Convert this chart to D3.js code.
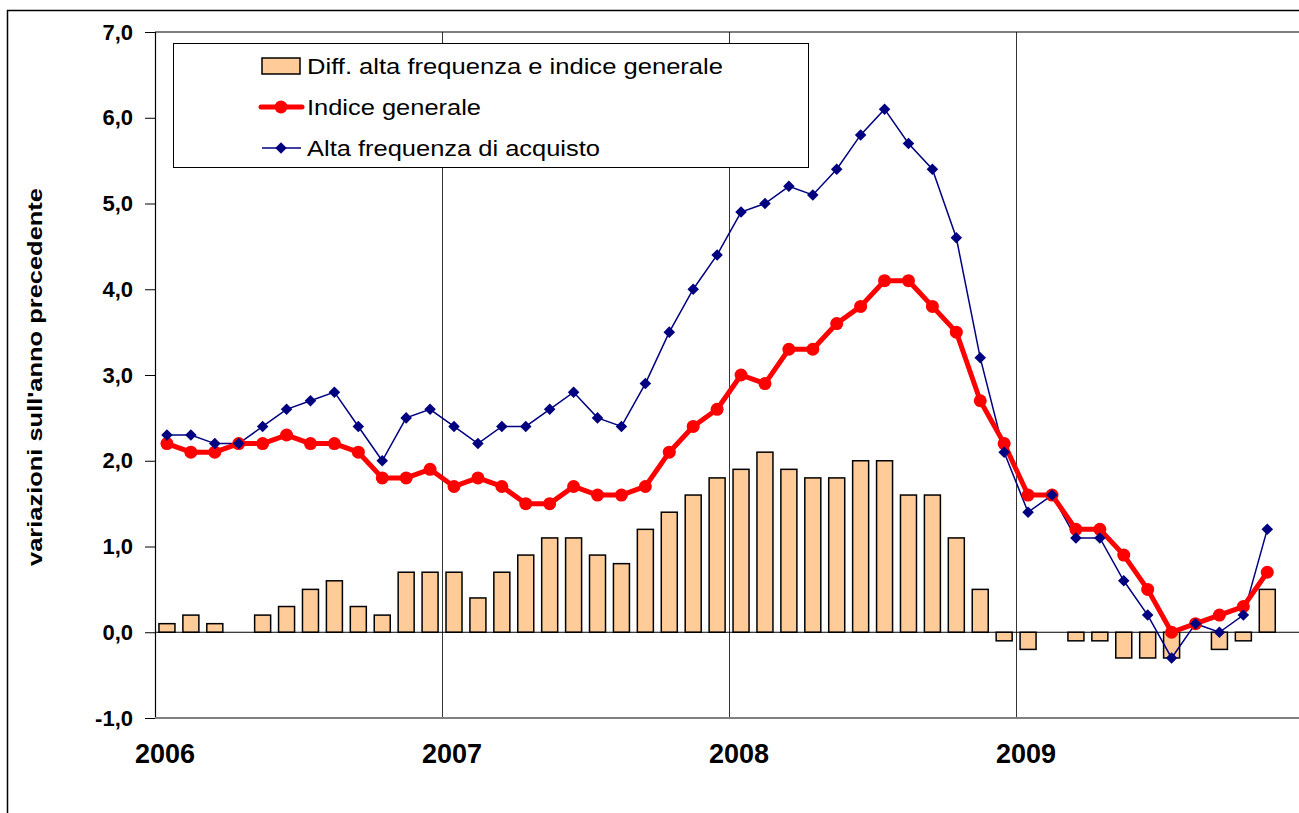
<!DOCTYPE html>
<html>
<head>
<meta charset="utf-8">
<script src="https://cdn.jsdelivr.net/npm/d3@7"></script>
<style>
  body { margin: 0; background: #fff; }
  svg { display: block; font-family: "Liberation Sans", Arial, sans-serif; }
</style>
</head>
<body>
<div id="chart"></div>
<script>
// months Jan 2006 .. Dec 2009 (Dec 2009 empty)
var years = [2006, 2007, 2008, 2009];
var months = [];
years.forEach(function(y){ for (var m = 1; m <= 12; m++) months.push(y + "-" + m); });

var altaFreq = [2.3, 2.3, 2.2, 2.2, 2.4, 2.6, 2.7, 2.8, 2.4, 2.0, 2.5, 2.6,
                2.4, 2.2, 2.4, 2.4, 2.6, 2.8, 2.5, 2.4, 2.9, 3.5, 4.0, 4.4,
                4.9, 5.0, 5.2, 5.1, 5.4, 5.8, 6.1, 5.7, 5.4, 4.6, 3.2, 2.1,
                1.4, 1.6, 1.1, 1.1, 0.6, 0.2, -0.3, 0.1, 0.0, 0.2, 1.2];
var indiceGen = [2.2, 2.1, 2.1, 2.2, 2.2, 2.3, 2.2, 2.2, 2.1, 1.8, 1.8, 1.9,
                 1.7, 1.8, 1.7, 1.5, 1.5, 1.7, 1.6, 1.6, 1.7, 2.1, 2.4, 2.6,
                 3.0, 2.9, 3.3, 3.3, 3.6, 3.8, 4.1, 4.1, 3.8, 3.5, 2.7, 2.2,
                 1.6, 1.6, 1.2, 1.2, 0.9, 0.5, 0.0, 0.1, 0.2, 0.3, 0.7];
var diffVals = [0.1, 0.2, 0.1, 0.0, 0.2, 0.3, 0.5, 0.6, 0.3, 0.2, 0.7, 0.7,
                0.7, 0.4, 0.7, 0.9, 1.1, 1.1, 0.9, 0.8, 1.2, 1.4, 1.6, 1.8,
                1.9, 2.1, 1.9, 1.8, 1.8, 2.0, 2.0, 1.6, 1.6, 1.1, 0.5, -0.1,
                -0.2, 0.0, -0.1, -0.1, -0.3, -0.3, -0.3, 0.0, -0.2, -0.1, 0.5];
var yTicks = [-1, 0, 1, 2, 3, 4, 5, 6, 7];

var W = 1299, H = 813;
var plotLeft = 155, plotTop = 32, plotBottom = 718;
var plotW = 48 * 23.92;

var svg = d3.select("#chart").append("svg")
  .attr("width", W).attr("height", H);

// outer chart frame
svg.append("rect")
  .attr("x", 7.5).attr("y", 10.5)
  .attr("width", W + 20).attr("height", H + 20)
  .attr("fill", "none").attr("stroke", "#000").attr("stroke-width", 1.5);

var x = d3.scaleBand().domain(months).range([plotLeft, plotLeft + plotW]);
var y = d3.scaleLinear().domain([-1, 7]).range([plotBottom, plotTop]);

var g = svg.append("g");

// plot area top border
g.append("line")
  .attr("x1", plotLeft).attr("x2", plotLeft + plotW)
  .attr("y1", plotTop).attr("y2", plotTop)
  .attr("stroke", "#808080").attr("stroke-width", 2);

// year gridlines
years.slice(1).forEach(function(yr){
  var xx = Math.round(x(yr + "-1")) + 0.5;
  g.append("line")
    .attr("x1", xx).attr("x2", xx)
    .attr("y1", plotTop).attr("y2", plotBottom)
    .attr("stroke", "#000").attr("stroke-width", 0.8);
});

// bars (zero values have no bar)
var bw = 16;
diffVals.forEach(function(d, i){
  if (d === 0) return;
  g.append("rect")
    .attr("class", "bar")
    .attr("x", x(months[i]) + (x.bandwidth() - bw) / 2)
    .attr("y", y(Math.max(0, d)))
    .attr("width", bw)
    .attr("height", Math.abs(y(d) - y(0)))
    .attr("fill", "#FFCC99")
    .attr("stroke", "#000")
    .attr("stroke-width", 1.5);
});

// zero line
g.append("line")
  .attr("x1", plotLeft).attr("x2", plotLeft + plotW)
  .attr("y1", y(0)).attr("y2", y(0))
  .attr("stroke", "#000").attr("stroke-width", 1);

// y axis
var yAxis = d3.axisLeft(y).tickValues(yTicks).tickSize(10).tickPadding(12)
  .tickFormat(function(d){ return d.toFixed(1).replace(".", ","); });
var ya = svg.append("g").attr("transform", "translate(" + plotLeft + ",0)").call(yAxis);
ya.select(".domain").attr("stroke", "#000").attr("stroke-width", 1.2);
ya.selectAll(".tick line").attr("stroke", "#000");
ya.selectAll("text").attr("font-size", 22).attr("font-weight", "bold")
  .attr("font-family", "Liberation Sans, Arial, sans-serif").attr("fill", "#000");

// bottom border of plot
svg.append("line")
  .attr("x1", plotLeft).attr("x2", plotLeft + plotW)
  .attr("y1", plotBottom).attr("y2", plotBottom)
  .attr("stroke", "#808080").attr("stroke-width", 2);

// year labels
years.forEach(function(yr){
  svg.append("text")
    .attr("x", x(yr + "-1") + x.bandwidth() / 2 - 2)
    .attr("y", 763)
    .attr("text-anchor", "middle")
    .attr("font-size", 27).attr("font-weight", "bold")
    .text(yr);
});

// y title
svg.append("text")
  .attr("transform", "translate(42,377) rotate(-90)")
  .attr("text-anchor", "middle")
  .attr("font-size", 21).attr("font-weight", "bold")
  .attr("textLength", 378).attr("lengthAdjust", "spacingAndGlyphs")
  .text("variazioni sull'anno precedente");

var cx = function(d, i){ return x(months[i]) + x.bandwidth() / 2; };

// blue line
var lineBlue = d3.line().x(cx).y(function(d){ return y(d); });
g.append("path").attr("d", lineBlue(altaFreq))
  .attr("fill", "none").attr("stroke", "#000080").attr("stroke-width", 1.5);

// red line
var lineRed = d3.line().x(cx).y(function(d){ return y(d); });
g.append("path").attr("d", lineRed(indiceGen))
  .attr("fill", "none").attr("stroke", "#FF0000").attr("stroke-width", 5)
  .attr("stroke-linejoin", "round");
g.selectAll(".redpt").data(indiceGen).enter().append("circle")
  .attr("cx", cx).attr("cy", function(d){ return y(d); })
  .attr("r", 6.5).attr("fill", "#FF0000");

// blue markers on top
var diamond = d3.symbol().type(d3.symbolDiamond2).size(85);
g.selectAll(".bluept").data(altaFreq).enter().append("path")
  .attr("d", diamond)
  .attr("transform", function(d, i){ return "translate(" + cx(d, i) + "," + y(d) + ")"; })
  .attr("fill", "#000080");

// legend
var lg = svg.append("g");
lg.append("rect").attr("x", 173.5).attr("y", 43.5).attr("width", 635).attr("height", 124)
  .attr("fill", "#fff").attr("stroke", "#000").attr("stroke-width", 1);
var legendRows = [
  { label: "Diff. alta frequenza e indice generale", type: "bar", w: 416 },
  { label: "Indice generale", type: "red", w: 174 },
  { label: "Alta frequenza di acquisto", type: "blue", w: 293 }
];
var rowY = [66, 107, 148];
legendRows.forEach(function(r, i){
  var yy = rowY[i];
  if (r.type === "bar") {
    lg.append("rect").attr("x", 262).attr("y", yy - 8).attr("width", 38).attr("height", 16)
      .attr("fill", "#FFCC99").attr("stroke", "#000").attr("stroke-width", 1.5);
  } else if (r.type === "red") {
    lg.append("line").attr("x1", 261).attr("x2", 302).attr("y1", yy).attr("y2", yy)
      .attr("stroke", "#FF0000").attr("stroke-width", 5).attr("stroke-linecap", "round");
    lg.append("circle").attr("cx", 281).attr("cy", yy).attr("r", 6.5).attr("fill", "#FF0000");
  } else {
    lg.append("line").attr("x1", 262).attr("x2", 301).attr("y1", yy).attr("y2", yy)
      .attr("stroke", "#000080").attr("stroke-width", 1.5);
    lg.append("path").attr("d", diamond).attr("transform", "translate(281," + yy + ")")
      .attr("fill", "#000080");
  }
  lg.append("text").attr("x", 307).attr("y", yy + 8)
    .attr("font-size", 22)
    .attr("textLength", r.w).attr("lengthAdjust", "spacingAndGlyphs")
    .text(r.label);
});
</script>
</body>
</html>
